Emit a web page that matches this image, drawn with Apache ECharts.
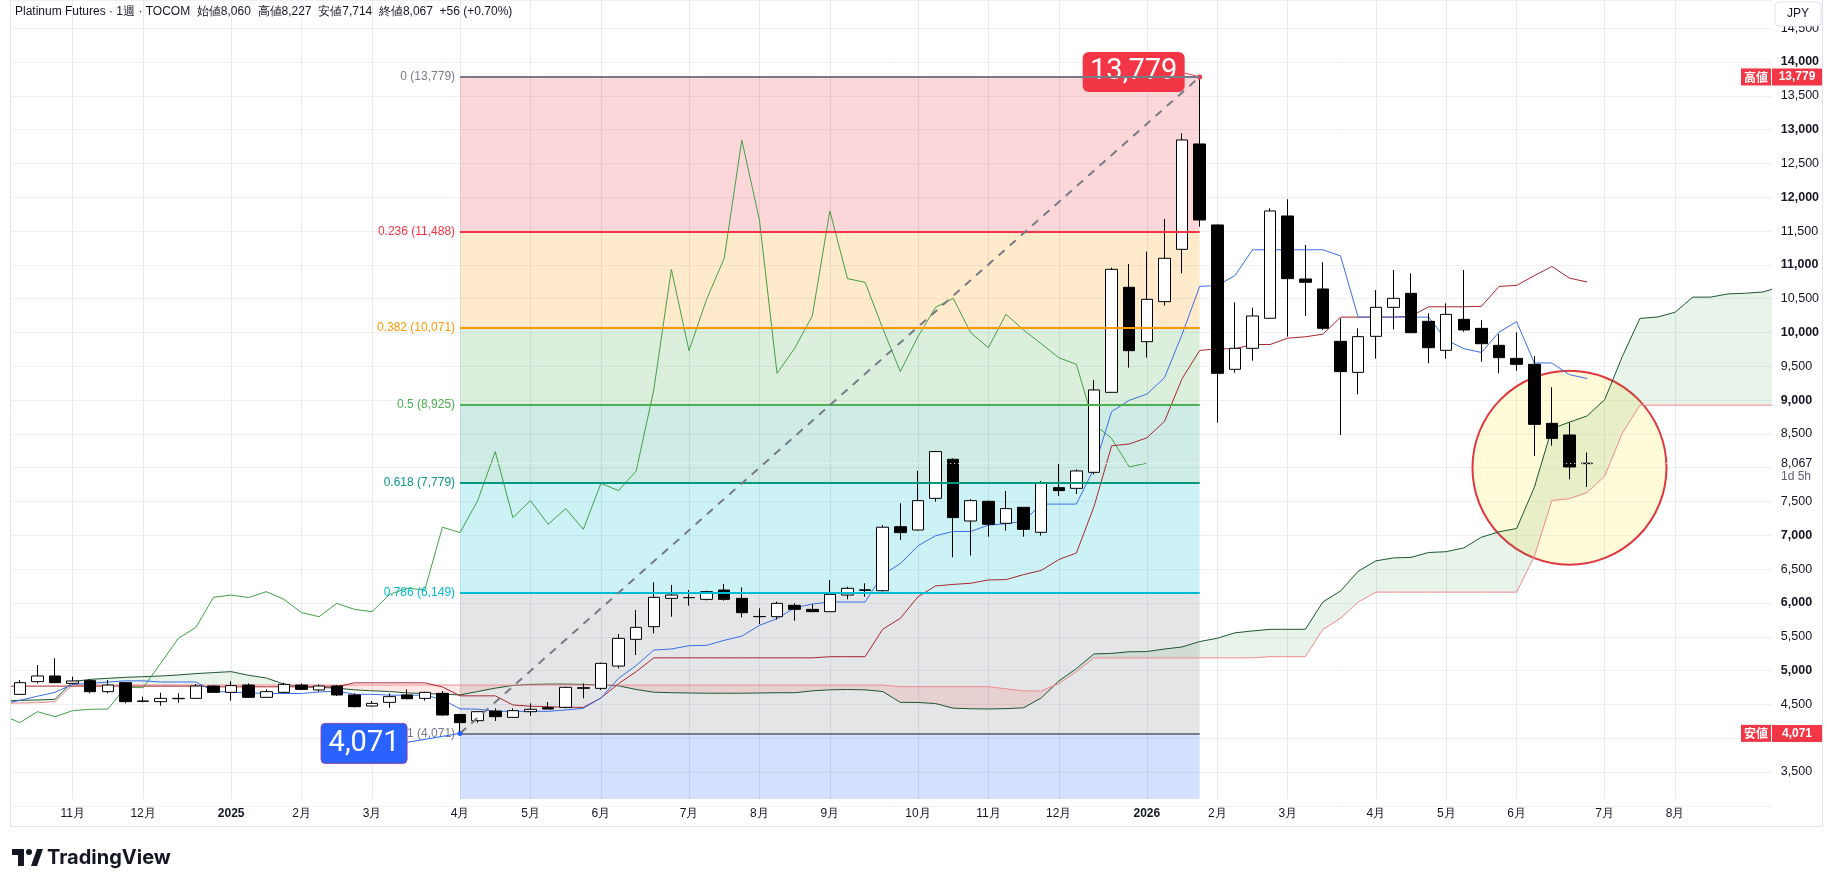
<!DOCTYPE html>
<html>
<head>
<meta charset="utf-8">
<script src="https://cdn.jsdelivr.net/npm/echarts@6/dist/echarts.min.js"></script>
<style>
  html, body { margin: 0; padding: 0; background: #fff; }
  #chart { width: 1827px; height: 887px; }
</style>
</head>
<body>
<div id="chart"></div>
<script>
// weekly bars; first entry sits just left of the visible pane, last just right of it
const weeks = [
  '2024-10-07','2024-10-14','2024-10-21','2024-10-28','2024-11-04','2024-11-11','2024-11-18','2024-11-25',
  '2024-12-02','2024-12-09','2024-12-16','2024-12-23','2024-12-30',
  '2025-01-06','2025-01-13','2025-01-20','2025-01-27','2025-02-03','2025-02-10','2025-02-17','2025-02-24',
  '2025-03-03','2025-03-10','2025-03-17','2025-03-24','2025-03-31','2025-04-07','2025-04-14','2025-04-21',
  '2025-04-28','2025-05-05','2025-05-12','2025-05-19','2025-05-26','2025-06-02','2025-06-09','2025-06-16',
  '2025-06-23','2025-06-30','2025-07-07','2025-07-14','2025-07-21','2025-07-28','2025-08-04','2025-08-11',
  '2025-08-18','2025-08-25','2025-09-01','2025-09-08','2025-09-15','2025-09-22','2025-09-29','2025-10-06',
  '2025-10-13','2025-10-20','2025-10-27','2025-11-03','2025-11-10','2025-11-17','2025-11-24','2025-12-01',
  '2025-12-08','2025-12-15','2025-12-22','2025-12-29',
  '2026-01-05','2026-01-12','2026-01-19','2026-01-26','2026-02-02','2026-02-09','2026-02-16','2026-02-23',
  '2026-03-02','2026-03-09','2026-03-16','2026-03-23','2026-03-30','2026-04-06','2026-04-13','2026-04-20',
  '2026-04-27','2026-05-04','2026-05-11','2026-05-18','2026-05-25','2026-06-01','2026-06-08','2026-06-15',
  '2026-06-22','2026-06-29','2026-07-06','2026-07-13','2026-07-20','2026-07-27','2026-08-03','2026-08-10',
  '2026-08-17','2026-08-24','2026-08-31','2026-09-07','2026-09-14'
];

const monthLabels = {
  '2024-11-04': '11月', '2024-12-02': '12月', '2025-01-06': '2025', '2025-02-03': '2月',
  '2025-03-03': '3月', '2025-04-07': '4月', '2025-05-05': '5月', '2025-06-02': '6月',
  '2025-07-07': '7月', '2025-08-04': '8月', '2025-09-01': '9月', '2025-10-06': '10月',
  '2025-11-03': '11月', '2025-12-01': '12月', '2026-01-05': '2026', '2026-02-02': '2月',
  '2026-03-02': '3月', '2026-04-06': '4月', '2026-05-04': '5月', '2026-06-01': '6月',
  '2026-07-06': '7月', '2026-08-03': '8月'
};

// OHLC from 2024-10-14 to 2026-06-29
const opens = [
  4648,4836,4920,4811,4851,4688,4821,4545,4540,4584,
  4589,4772,4678,4786,4604,4678,4786,4713,4772,4639,
  4476,4530,4639,4589,4663,4350,4259,4402,4308,4392,
  4451,4456,4737,4737,5067,5462,5649,6068,6078,6053,
  6191,6068,5800,5797,5965,5905,5871,6117,6185,6181,
  7128,7079,7547,8124,7212,7503,7178,7414,7045,7705,
  7695,7932,9115,10668,9864,10456,11230,12788,11590,9455,
  9766,10210,11723,10791,10643,9869,9410,9943,10372,10579,
  10165,9736,10194,10061,9810,9617,9529,8656,8484,8060
];
const closes = [
  4821,4920,4821,4846,4688,4786,4540,4550,4589,4589,
  4772,4678,4777,4604,4688,4796,4722,4772,4639,4466,
  4515,4614,4584,4678,4343,4230,4392,4318,4407,4427,
  4431,4752,4747,5107,5476,5639,6083,6117,6080,6167,
  6053,5856,5797,5994,5905,5871,6127,6216,6195,7120,
  7040,7513,8238,7262,7513,7163,7395,7089,7769,7661,
  7952,9150,10934,9731,10490,11097,12847,11664,9396,9766,
  10244,11797,10796,10742,10062,9421,9938,10372,10505,9997,
  9775,10268,10037,9834,9627,9529,8641,8434,8011,8067
];
const lows = [
  4645,4811,4821,4796,4663,4663,4515,4530,4481,4525,
  4584,4673,4555,4594,4599,4663,4713,4688,4624,4456,
  4466,4451,4575,4555,4333,4071,4229,4254,4300,4333,
  4431,4441,4589,4713,5033,5230,5550,5797,5960,6038,
  6034,5787,5688,5757,5738,5865,5865,6053,6093,6170,
  6931,7069,7498,6675,6700,6980,7069,6980,6995,7582,
  7612,7900,9115,9480,9628,10397,10875,11565,8666,9406,
  9583,10210,9938,10244,10037,8484,9085,9612,10046,9990,
  9544,9612,10012,9568,9396,9435,8173,8326,7828,7714
];
const highs = [
  4860,5082,5181,4910,4875,4860,4830,4614,4673,4663,
  4801,4782,4841,4811,4722,4821,4811,4796,4786,4663,
  4550,4663,4722,4688,4698,4360,4400,4441,4441,4515,
  4535,4762,4811,5117,5541,5896,6305,6265,6191,6181,
  6280,6231,5920,6019,5994,5979,6339,6240,6290,7150,
  7474,7952,8248,8139,7538,7513,7656,7414,7804,8055,
  7976,9300,10959,11013,11195,11679,12946,13779,11600,10446,
  10367,11836,11970,11294,11038,10210,10061,10628,10924,10875,
  10283,10431,10924,10184,9977,10002,9652,9189,8666,8227
];

// Ichimoku lines, aligned with weeks (first entry = week before the first bar)
const tenkan = [
  4500, 4560,4620,4678,4796,4810,4830,4848,4848,4831,4831,
  4831,4696,4678,4671,4661,4661,4661,4683,4698,4649,
  4649,4636,4636,4636,4572,4434,4429,4397,4397,4397,
  4397,4417,4441,4594,4885,5075,5303,5319,5368,5373,
  5447,5509,5669,5768,5928,5984,6014,6014,6014,6419,
  6581,6845,6993,7057,7057,7151,7171,7209,7462,7462,
  7462,7988,8830,8997,9088,9330,9971,10681,10696,10840,
  11223,11223,11223,11223,11223,11132,10227,10227,10227,10227,
  10227,9889,9761,9704,10005,10160,9549,9549,9376,9319
];
const kijun = [
  4770, 4770,4770,4770,4770,4770,4770,4770,4770,4770,4770,
  4770,4760,4760,4760,4760,4760,4760,4760,4760,4818,
  4818,4818,4818,4818,4757,4626,4626,4626,4491,4473,
  4466,4456,4456,4594,4806,4984,5188,5188,5188,5188,
  5188,5188,5188,5188,5188,5188,5205,5205,5205,5611,
  5773,6091,6251,6274,6291,6340,6345,6419,6481,6641,
  6739,7425,8324,8351,8442,8684,9317,9734,9759,9759,
  9822,9822,9916,9936,9975,10227,10227,10227,10227,10240,
  10380,10380,10380,10387,10681,10696,10840,10976,10804,10747
];
const spanA = [
  4550, 4560,4565,4575,4836,4870,4885,4900,4910,4920,4935,
  4955,4970,4984,4930,4890,4800,4762,4750,4740,4715,
  4700,4690,4670,4660,4650,4640,4690,4740,4780,4795,
  4800,4800,4795,4786,4775,4720,4680,4673,4668,4665,
  4665,4665,4668,4672,4672,4700,4715,4720,4715,4690,
  4530,4528,4512,4444,4435,4432,4437,4449,4594,4846,
  5030,5246,5254,5278,5281,5318,5349,5429,5478,5558,
  5586,5610,5610,5610,6015,6177,6468,6622,6666,6674,
  6746,6758,6814,6972,7052,7101,7707,8577,8674,8765,
  9007,9644,10208,10228,10300,10523,10523,10570,10580,10599,
  10680
];
const spanB = [
  4515, 4520,4525,4540,4786,4786,4786,4786,4786,4786,4786,
  4786,4786,4786,4786,4786,4786,4786,4786,4786,4786,
  4786,4786,4786,4786,4786,4786,4786,4786,4786,4786,
  4786,4786,4786,4786,4786,4786,4786,4786,4786,4786,
  4786,4786,4786,4786,4786,4786,4786,4786,4786,4786,
  4762,4762,4762,4762,4762,4762,4730,4700,4698,4806,
  4984,5188,5188,5188,5188,5188,5188,5188,5188,5188,
  5188,5205,5205,5205,5611,5773,6012,6160,6160,6160,
  6160,6160,6160,6160,6160,6160,6686,7515,7542,7633,
  7875,8509,8925,8925,8925,8925,8925,8925,8925,8925,
  8925
];

// fib retracement between the April 2025 low and the January 2026 high
const fibRatios = ['0', '0.236', '0.382', '0.5', '0.618', '0.786', '1'];
const fibPrices = [13779, 11488, 10071, 8925, 7779, 6149, 4071];
const fibColors = ['#787b86', '#f23645', '#ff9800', '#4caf50', '#089981', '#00bcd4', '#787b86'];
const fibFills = ['rgba(242,54,69,0.2)', 'rgba(255,152,0,0.2)', 'rgba(76,175,80,0.2)',
                  'rgba(8,153,129,0.2)', 'rgba(0,188,212,0.2)', 'rgba(120,123,134,0.2)'];
const swingLow = '2025-04-07';
const swingHigh = '2026-01-26';
const highlightWeek = '2026-06-22';
const highlightPrice = 8000;
const hiddenPriceLabels = [4000, 8000];

const FONT = '"Liberation Sans", Arial, sans-serif';
const PANE_BOTTOM = 3100;   // price at the lower edge of the price pane
const PANE_TOP = 14917;     // price at the upper edge
const PLOT_RIGHT = 1772;
const chart = echarts.init(document.getElementById('chart'), null, { renderer: 'canvas' });

const fmt = v => v.toLocaleString('en-US');
const candleData = [['-', '-', '-', '-']].concat(opens.map((o, i) => [o, closes[i], lows[i], highs[i]]));
// lagging span = close plotted 25 bars back
const chikou = weeks.map((w, c) => closes[c + 24] !== undefined ? closes[c + 24] : '-');
const cloudBase = spanA.map((a, i) => Math.min(a, spanB[i]));
const cloudUp = spanA.map((a, i) => Math.max(a - spanB[i], 0));
const cloudDown = spanA.map((a, i) => Math.max(spanB[i] - a, 0));

const bands = fibFills.map((c, j) => [
  { xAxis: swingLow, yAxis: fibPrices[j], itemStyle: { color: c } },
  { xAxis: swingHigh, yAxis: fibPrices[j + 1] }
]);
bands.push([
  { xAxis: swingLow, yAxis: fibPrices[6], itemStyle: { color: 'rgba(41,98,255,0.2)' } },
  { xAxis: swingHigh, yAxis: PANE_BOTTOM }
]);

const fibLines = fibPrices.map((p, j) => [
  {
    coord: [swingLow, p],
    lineStyle: { color: fibColors[j], width: 2, type: 'solid' },
    label: { show: true, position: 'start', distance: 5, formatter: `${fibRatios[j]} (${fmt(p)})`,
             color: fibColors[j], fontSize: 12, fontFamily: FONT }
  },
  { coord: [swingHigh, p] }
]);
fibLines.push([
  { coord: [swingLow, fibPrices[6]], lineStyle: { color: '#787b86', width: 2, type: [8, 7] }, label: { show: false } },
  { coord: [swingHigh, fibPrices[0]] }
]);

function lineSeries(name, data, color) {
  return { name, type: 'line', data, symbol: 'none', silent: true, z: 5,
           lineStyle: { color, width: 1 }, emphasis: { disabled: true } };
}

function cloudSeries(name, data, fill) {
  return { name, type: 'line', data, stack: 'cloud', symbol: 'none', silent: true, z: 4,
           lineStyle: { opacity: 0 }, areaStyle: fill ? { color: fill, opacity: 1 } : undefined };
}

const option = {
  animation: false,
  backgroundColor: '#ffffff',
  grid: { left: 2.2, right: 46.2, top: 0, bottom: 81.2 },
  xAxis: {
    type: 'category', data: weeks, boundaryGap: false,
    axisLine: { show: false }, axisTick: { show: false }, splitLine: { show: false },
    axisLabel: {
      interval: (i, v) => monthLabels[v] !== undefined,
      formatter: v => {
        const t = monthLabels[v] || '';
        return /^\d{4}$/.test(t) ? `{y|${t}}` : t;
      },
      color: '#131722', fontSize: 12, margin: 2, fontFamily: FONT,
      rich: { y: { fontWeight: 'bold', fontSize: 12, color: '#131722', fontFamily: FONT } }
    }
  },
  yAxis: {
    type: 'value', position: 'right', min: 3000, max: PANE_TOP, interval: 500,
    axisLine: { show: false }, axisTick: { show: false },
    splitLine: { lineStyle: { color: '#eef0f4', width: 1 } },
    axisLabel: {
      margin: 0, fontSize: 12.5, color: '#131722', fontFamily: FONT,
      showMaxLabel: false,
      formatter: v => {
        if (v < 3500 || v > 14500 || hiddenPriceLabels.includes(v)) return '';
        return v % 1000 === 0 ? `{b|${fmt(v)}}` : fmt(v);
      },
      rich: { b: { fontWeight: 'bold', fontSize: 12.5, color: '#131722', fontFamily: FONT } }
    }
  },
  series: [
    {
      name: 'monthGrid', type: 'line', data: [], z: 1, silent: true,
      markLine: {
        z: 0.5, silent: true, symbol: ['none', 'none'], label: { show: false },
        lineStyle: { color: '#e6e9ef', width: 1, type: 'solid' },
        data: Object.keys(monthLabels).map(d => [{ coord: [d, PANE_BOTTOM] }, { coord: [d, PANE_TOP] }])
      }
    },
    {
      name: 'fibBands', type: 'line', data: [], z: 2, silent: true,
      markArea: { z: 1, silent: true, data: bands }
    },
    cloudSeries('cloudBase', cloudBase, null),
    cloudSeries('cloudUp', cloudUp, 'rgba(67,160,71,0.12)'),
    cloudSeries('cloudDown', cloudDown, 'rgba(244,67,54,0.13)'),
    lineSeries('spanA', spanA, '#1e5631'),
    lineSeries('spanB', spanB, '#ef8a90'),
    lineSeries('chikou', chikou, '#43a047'),
    lineSeries('kijun', kijun, '#a8262f'),
    lineSeries('tenkan', tenkan, '#3b6ee8'),
    {
      name: 'Platinum', type: 'candlestick', data: candleData, barWidth: 12, z: 6, silent: true,
      itemStyle: { color: '#ffffff', color0: '#000000', borderColor: '#000000', borderColor0: '#000000', borderWidth: 1 },
      markLine: {
        z: 6.5, silent: true, symbol: ['none', 'none'], label: { show: false },
        lineStyle: { color: '#ffffff', width: 1, type: [1, 3] },
        data: [{ yAxis: closes[closes.length - 1] }]
      }
    },
    {
      name: 'fibLines', type: 'line', data: [], z: 7, silent: true,
      markLine: { z: 7, silent: true, symbol: ['none', 'none'], data: fibLines }
    }
  ]
};
chart.setOption(option);

// drawings and chrome placed from data coordinates
const toPx = (week, price) => chart.convertToPixel({ gridIndex: 0 }, [weeks.indexOf(week), price]);
const pLow = toPx(swingLow, Math.min(...lows));
const pHigh = toPx(swingHigh, Math.max(...highs));
const pCircle = toPx(highlightWeek, highlightPrice);
const last = closes.length - 1;
const yLast = toPx(weeks[last + 1], closes[last])[1];
const change = closes[last] - closes[last - 1];
const pct = (change / closes[last - 1] * 100).toFixed(2);
const header = `Platinum Futures · 1週 · TOCOM  始値${fmt(opens[last])}  高値${fmt(highs[last])}  ` +
               `安値${fmt(lows[last])}  終値${fmt(closes[last])}  +${change} (+${pct}%)`;

const RED = '#f23645';
const BLUE = '#2962ff';
const graphics = [
  { type: 'rect', z: 20, shape: { x: 0, y: 0, width: 10, height: 826 }, style: { fill: '#ffffff' } },
  { type: 'rect', z: 20, shape: { x: PLOT_RIGHT, y: 0, width: 9, height: 826 }, style: { fill: '#ffffff' } },
  { type: 'rect', z: 21, shape: { x: 10.5, y: -1, width: 1812, height: 827.5 },
    style: { fill: null, stroke: '#e0e3eb', lineWidth: 1 } },
  { type: 'circle', z: 3, shape: { cx: pCircle[0], cy: pCircle[1], r: 97 },
    style: { fill: 'rgba(255,235,59,0.2)', stroke: '#e0363f', lineWidth: 2 } },
  // high callout
  { type: 'line', z: 6.5, shape: { x1: pHigh[0] - 15, y1: pHigh[1] - 4, x2: pHigh[0], y2: pHigh[1] },
    style: { stroke: RED, lineWidth: 1 } },
  { type: 'rect', z: 6.5, shape: { x: pHigh[0] - 117, y: pHigh[1] - 25, width: 102, height: 40, r: 6 },
    style: { fill: RED } },
  { type: 'text', z: 6.6, x: pHigh[0] - 66, y: pHigh[1] - 5,
    style: { text: fmt(Math.max(...highs)), fill: '#ffffff', font: '29px Roboto, sans-serif',
             align: 'center', verticalAlign: 'middle' } },
  { type: 'circle', z: 6.6, shape: { cx: pHigh[0], cy: pHigh[1], r: 2.5 }, style: { fill: RED } },
  // low callout
  { type: 'line', z: 8, shape: { x1: pLow[0] - 53, y1: pLow[1] + 9, x2: pLow[0], y2: pLow[1] },
    style: { stroke: BLUE, lineWidth: 1 } },
  { type: 'rect', z: 8, shape: { x: pLow[0] - 139, y: pLow[1] - 10, width: 86, height: 40, r: 4 },
    style: { fill: BLUE, stroke: '#8e44ad', lineWidth: 1 } },
  { type: 'text', z: 8.1, x: pLow[0] - 96, y: pLow[1] + 10,
    style: { text: fmt(Math.min(...lows)), fill: '#ffffff', font: '29px Roboto, sans-serif',
             align: 'center', verticalAlign: 'middle' } },
  { type: 'circle', z: 8.1, shape: { cx: pLow[0], cy: pLow[1], r: 2.5 }, style: { fill: BLUE } },
  // price scale tags
  { type: 'rect', z: 30, shape: { x: PLOT_RIGHT - 31, y: pHigh[1] - 8.5, width: 30, height: 17 }, style: { fill: RED } },
  { type: 'rect', z: 30, shape: { x: PLOT_RIGHT, y: pHigh[1] - 8.5, width: 50, height: 17 }, style: { fill: RED } },
  { type: 'text', z: 31, x: PLOT_RIGHT - 16, y: pHigh[1],
    style: { text: '高値', fill: '#fff', font: 'bold 12px "Noto Sans CJK JP", sans-serif', align: 'center', verticalAlign: 'middle' } },
  { type: 'text', z: 31, x: PLOT_RIGHT + 25, y: pHigh[1],
    style: { text: fmt(Math.max(...highs)), fill: '#fff', font: `bold 12px ${FONT}`, align: 'center', verticalAlign: 'middle' } },
  { type: 'rect', z: 30, shape: { x: PLOT_RIGHT - 31, y: pLow[1] - 8.5, width: 30, height: 17 }, style: { fill: RED } },
  { type: 'rect', z: 30, shape: { x: PLOT_RIGHT, y: pLow[1] - 8.5, width: 50, height: 17 }, style: { fill: RED } },
  { type: 'text', z: 31, x: PLOT_RIGHT - 16, y: pLow[1],
    style: { text: '安値', fill: '#fff', font: 'bold 12px "Noto Sans CJK JP", sans-serif', align: 'center', verticalAlign: 'middle' } },
  { type: 'text', z: 31, x: PLOT_RIGHT + 25, y: pLow[1],
    style: { text: fmt(Math.min(...lows)), fill: '#fff', font: `bold 12px ${FONT}`, align: 'center', verticalAlign: 'middle' } },
  { type: 'text', z: 31, x: PLOT_RIGHT + 9, y: yLast,
    style: { text: fmt(closes[last]), fill: '#131722', font: `12.5px ${FONT}`, verticalAlign: 'middle' } },
  { type: 'text', z: 31, x: PLOT_RIGHT + 9, y: yLast + 14,
    style: { text: '1d 5h', fill: '#5d606b', font: `12px ${FONT}`, verticalAlign: 'middle' } },
  // header and currency button
  { type: 'text', z: 31, x: 15, y: 12,
    style: { text: header, fill: '#131722', font: `12px ${FONT}`, verticalAlign: 'middle' } },
  { type: 'rect', z: 31, shape: { x: 1775, y: 2, width: 46, height: 24, r: 4 },
    style: { fill: '#ffffff', stroke: '#e0e3eb', lineWidth: 1 } },
  { type: 'text', z: 32, x: 1798, y: 14,
    style: { text: 'JPY', fill: '#131722', font: `12px ${FONT}`, align: 'center', verticalAlign: 'middle' } },
  // TradingView logo
  { type: 'rect', z: 31, shape: { x: 12, y: 849, width: 12, height: 6 }, style: { fill: '#131722' } },
  { type: 'rect', z: 31, shape: { x: 18, y: 849, width: 6, height: 17 }, style: { fill: '#131722' } },
  { type: 'circle', z: 31, shape: { cx: 29, cy: 852, r: 3 }, style: { fill: '#131722' } },
  { type: 'polygon', z: 31, shape: { points: [[31, 866], [37, 849], [43, 849], [37, 866]] }, style: { fill: '#131722' } },
  { type: 'text', z: 31, x: 47, y: 858,
    style: { text: 'TradingView', fill: '#131722', font: 'bold 20px Inter, sans-serif', verticalAlign: 'middle' } }
];
chart.setOption({ graphic: { elements: graphics } });
</script>
</body>
</html>
